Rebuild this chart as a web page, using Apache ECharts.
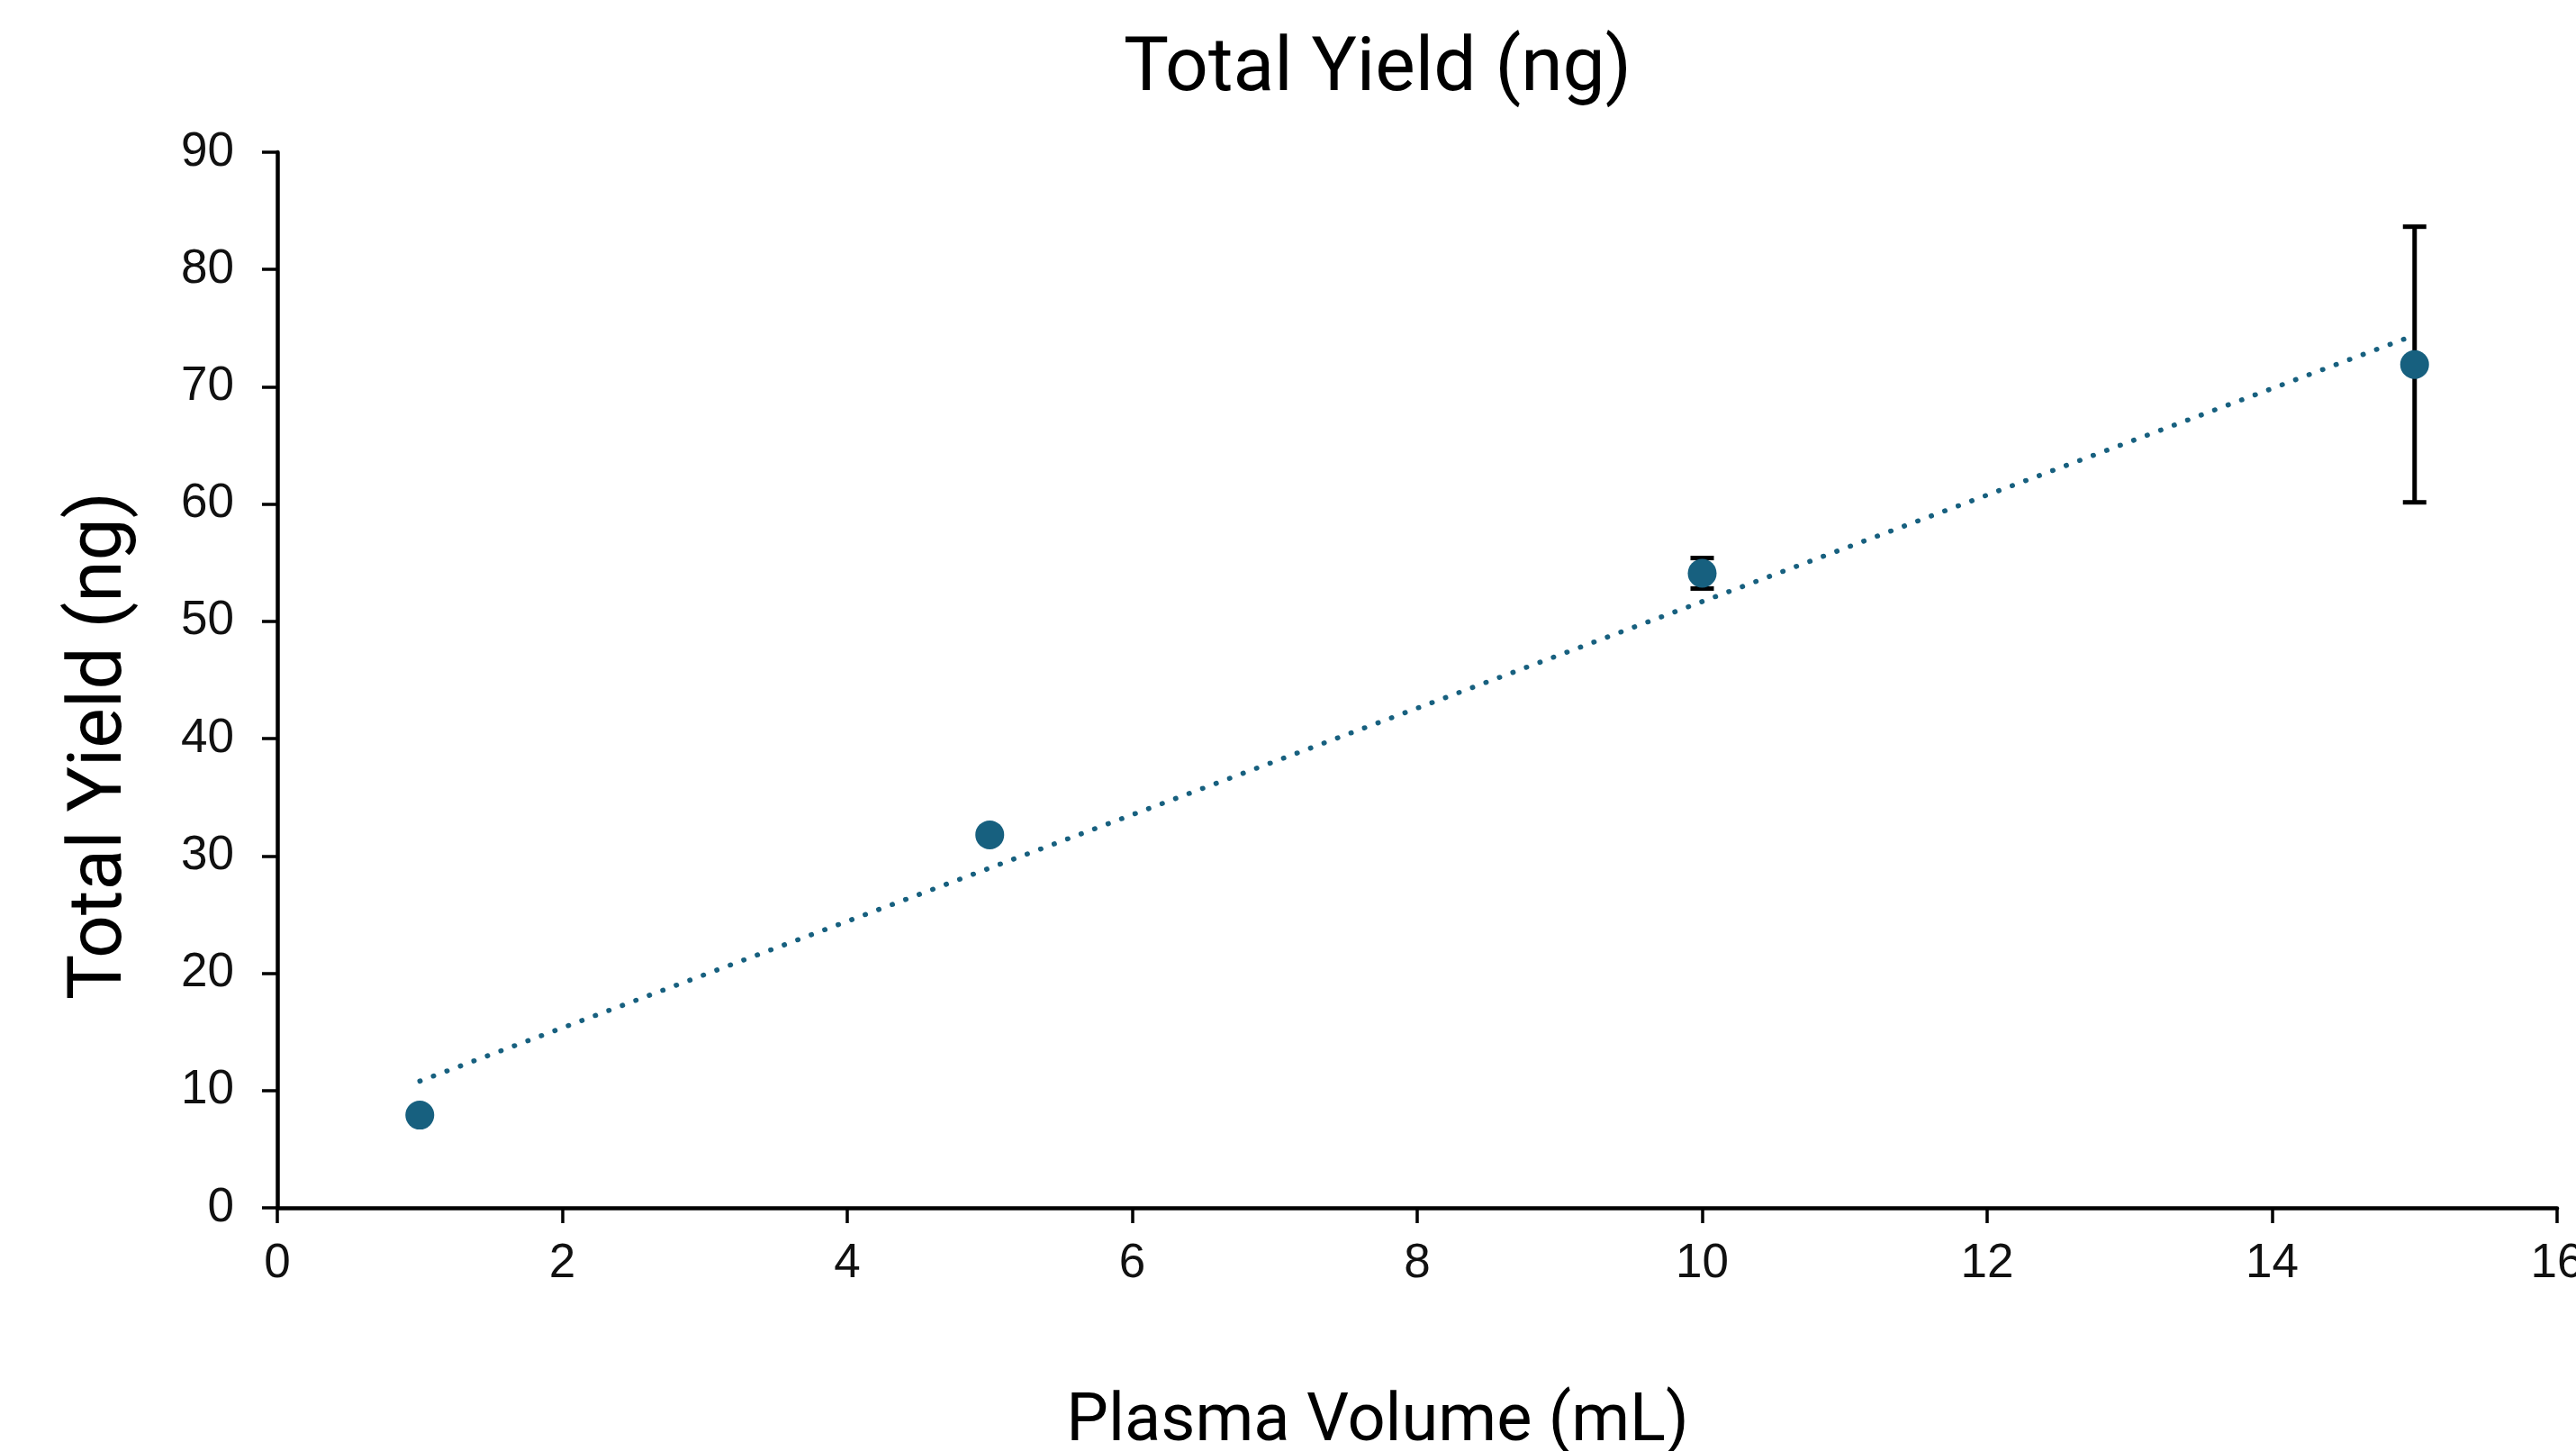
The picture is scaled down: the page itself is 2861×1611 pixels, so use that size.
<!DOCTYPE html>
<html lang="en" style="height: 100%">
<head>
  <meta charset="utf-8">
  <title>Total Yield (ng)</title>
</head>
<body style="height: 100%; margin: 0; background: #ffffff;">
  <div id="container" style="width: 2861px; height: 1611px;"></div>

  <script src="https://cdn.jsdelivr.net/npm/echarts@6/dist/echarts.min.js"></script>

  <script type="text/javascript">
    // data
    const volumes = [1, 5, 10, 15];
    const yields = [7.9, 31.8, 54.1, 71.9];
    const errors = [0, 0, 1.3, 11.75];
    // dotted linear trendline endpoints
    const trendX = [1, 15];
    const trendY = [10.8, 74.4];
    // tick labels
    const xTicks = [0, 2, 4, 6, 8, 10, 12, 14, 16];
    const yTicks = [0, 10, 20, 30, 40, 50, 60, 70, 80, 90];

    const dotColor = '#17607f';
    const tickFont = 'Liberation Sans';

    const myChart = echarts.init(document.getElementById('container'));

    const points = volumes.map((v, i) => [v, yields[i], errors[i]]);
    const trend = trendX.map((v, i) => [v, trendY[i]]);

    const axisCommon = {
      type: 'value',
      splitLine: { show: false },
      axisLine: { show: true, lineStyle: { color: '#000', width: 4.5 } },
      axisTick: { show: true, inside: false, length: 17, lineStyle: { color: '#000', width: 3.5 } },
      axisLabel: { color: '#111', fontSize: 53, fontFamily: tickFont, showMinLabel: true, showMaxLabel: true }
    };

    const option = {
      animation: false,
      backgroundColor: '#ffffff',
      grid: { left: 308, right: 21, top: 169, bottom: 270, containLabel: false, outerBoundsMode: 'none' },
      xAxis: Object.assign({}, axisCommon, {
        min: xTicks[0],
        max: xTicks[xTicks.length - 1],
        interval: xTicks[1] - xTicks[0],
        axisLabel: Object.assign({}, axisCommon.axisLabel, { margin: 36 })
      }),
      yAxis: Object.assign({}, axisCommon, {
        min: yTicks[0],
        max: yTicks[yTicks.length - 1],
        interval: yTicks[1] - yTicks[0],
        axisLabel: Object.assign({}, axisCommon.axisLabel, { margin: 48 })
      }),
      graphic: [
        {
          type: 'text', x: 1530, y: 79,
          style: { text: 'Total Yield (ng)', font: '84px Roboto', fill: '#000', textAlign: 'center', textVerticalAlign: 'middle' }
        },
        {
          type: 'text', x: 113, y: 828, rotation: Math.PI / 2,
          style: { text: 'Total Yield (ng)', font: '84px Roboto', fill: '#000', textAlign: 'center', textVerticalAlign: 'middle' }
        },
        {
          type: 'text', x: 1530, y: 1580,
          style: { text: 'Plasma Volume (mL)', font: '74px Roboto', fill: '#000', textAlign: 'center', textVerticalAlign: 'middle' }
        }
      ],
      series: [
        {
          name: 'trend',
          type: 'line',
          data: trend,
          symbol: 'none',
          silent: true,
          z: 1,
          lineStyle: { color: dotColor, width: 5.5, type: [0.5, 15.5], cap: 'round' }
        },
        {
          name: 'error',
          type: 'custom',
          data: points,
          z: 2,
          renderItem: function (params, api) {
            const x = api.value(0), y = api.value(1), e = api.value(2);
            if (!e) return null;
            const top = api.coord([x, y + e]);
            const bottom = api.coord([x, y - e]);
            const half = 13;
            const st = { stroke: '#000', lineWidth: 5 };
            return {
              type: 'group',
              children: [
                { type: 'line', shape: { x1: top[0], y1: top[1], x2: bottom[0], y2: bottom[1] }, style: st },
                { type: 'line', shape: { x1: top[0] - half, y1: top[1], x2: top[0] + half, y2: top[1] }, style: st },
                { type: 'line', shape: { x1: bottom[0] - half, y1: bottom[1], x2: bottom[0] + half, y2: bottom[1] }, style: st }
              ]
            };
          }
        },
        {
          name: 'Total Yield',
          type: 'scatter',
          data: points,
          symbol: 'circle',
          symbolSize: 32,
          z: 3,
          itemStyle: { color: dotColor, opacity: 1 }
        }
      ]
    };

    myChart.setOption(option);
    window.addEventListener('resize', myChart.resize);
  </script>
</body>
</html>
